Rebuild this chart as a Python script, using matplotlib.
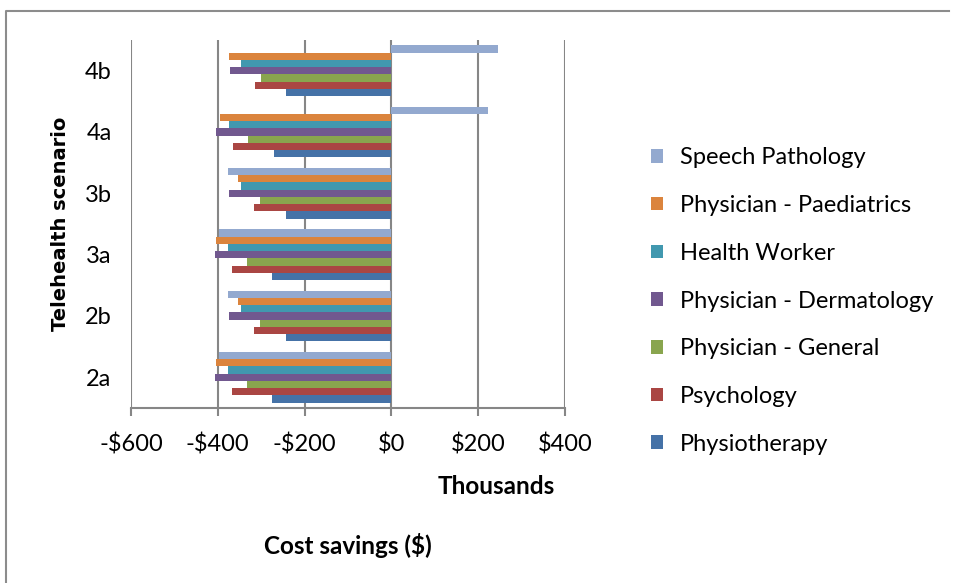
import numpy as np
import matplotlib.pyplot as plt
from matplotlib.lines import Line2D

# Scenarios (bottom to top) and cost savings in thousands of dollars
scenarios = ["2a", "2b", "3a", "3b", "4a", "4b"]

physiotherapy = [-275, -243, -275, -243, -271, -242]
psychology = [-368, -316, -368, -316, -364, -315]
physician_general = [-332, -302, -332, -302, -330, -301]
physician_dermatology = [-407, -374, -407, -374, -405, -373]
health_worker = [-377, -347, -377, -347, -374, -346]
physician_paediatrics = [-405, -354, -405, -354, -395, -375]
speech_pathology = [-398, -377, -398, -377, 223, 246]

series = [
    ("Physiotherapy", physiotherapy, "#4572A7"),
    ("Psychology", psychology, "#AA4643"),
    ("Physician - General", physician_general, "#89A54E"),
    ("Physician - Dermatology", physician_dermatology, "#71588F"),
    ("Health Worker", health_worker, "#4198AF"),
    ("Physician - Paediatrics", physician_paediatrics, "#DB843D"),
    ("Speech Pathology", speech_pathology, "#93A9CF"),
]

xticks = [-600, -400, -200, 0, 200, 400]
xtick_labels = ["-$600", "-$400", "-$200", "$0", "$200", "$400"]

plt.rcParams["font.family"] = ["Lato", "DejaVu Sans"]

W, H = 954, 583
fig = plt.figure(figsize=(W / 100, H / 100), dpi=100)
ax = fig.add_axes([131 / W, 1 - 408 / H, (565 - 131) / W, (408 - 40) / H])

# outer chart border: only top and left edges are visible in the original
fig.lines.append(Line2D([6.5 / W, 6.5 / W, 0.995], [-0.01, 1 - 10.5 / H, 1 - 10.5 / H],
                        transform=fig.transFigure, color="#8c8c8c", linewidth=1.5))

y = np.arange(len(scenarios))
h = 0.118
n = len(series)
for i, (name, vals, color) in enumerate(series):
    ax.barh(y + (i - (n - 1) / 2) * h, vals, height=h, color=color,
            label=name, zorder=3)

ax.set_xlim(-600, 400)
ax.set_ylim(-0.5, len(scenarios) - 0.5)
ax.set_xticks(xticks)
ax.set_xticklabels(xtick_labels, fontsize=17)
ax.set_yticks(y)
ax.set_yticklabels(scenarios, fontsize=17)
ax.tick_params(axis="y", length=0, pad=14)
ax.tick_params(axis="x", length=6, width=1.5, color="#868686", pad=12)

for xv in xticks:
    ax.axvline(xv, color="#868686", linewidth=1.5, zorder=1)

for s in ["top", "right", "left"]:
    ax.spines[s].set_visible(False)
ax.spines["bottom"].set_color("#868686")
ax.spines["bottom"].set_linewidth(1.5)

fig.text(61 / W, 1 - 224 / H, "Telehealth scenario", fontsize=14,
         fontweight="bold", family="DejaVu Sans", rotation=90,
         ha="center", va="center")
fig.text(496 / W, 1 - 487 / H, "Thousands", fontsize=17.5, fontweight="bold",
         ha="center", va="center")
fig.text(348 / W, 1 - 545 / H, "Cost savings ($)", fontsize=17.5,
         fontweight="bold", ha="center", va="center")

handles, labels = ax.get_legend_handles_labels()
fig.legend(handles[::-1], labels[::-1], loc="center left",
           bbox_to_anchor=(630 / W, 1 - 301 / H), frameon=False,
           fontsize=17, handlelength=0.5, handleheight=0.5,
           handletextpad=0.7, labelspacing=1.13)

fig.savefig("out.png", dpi=100)
